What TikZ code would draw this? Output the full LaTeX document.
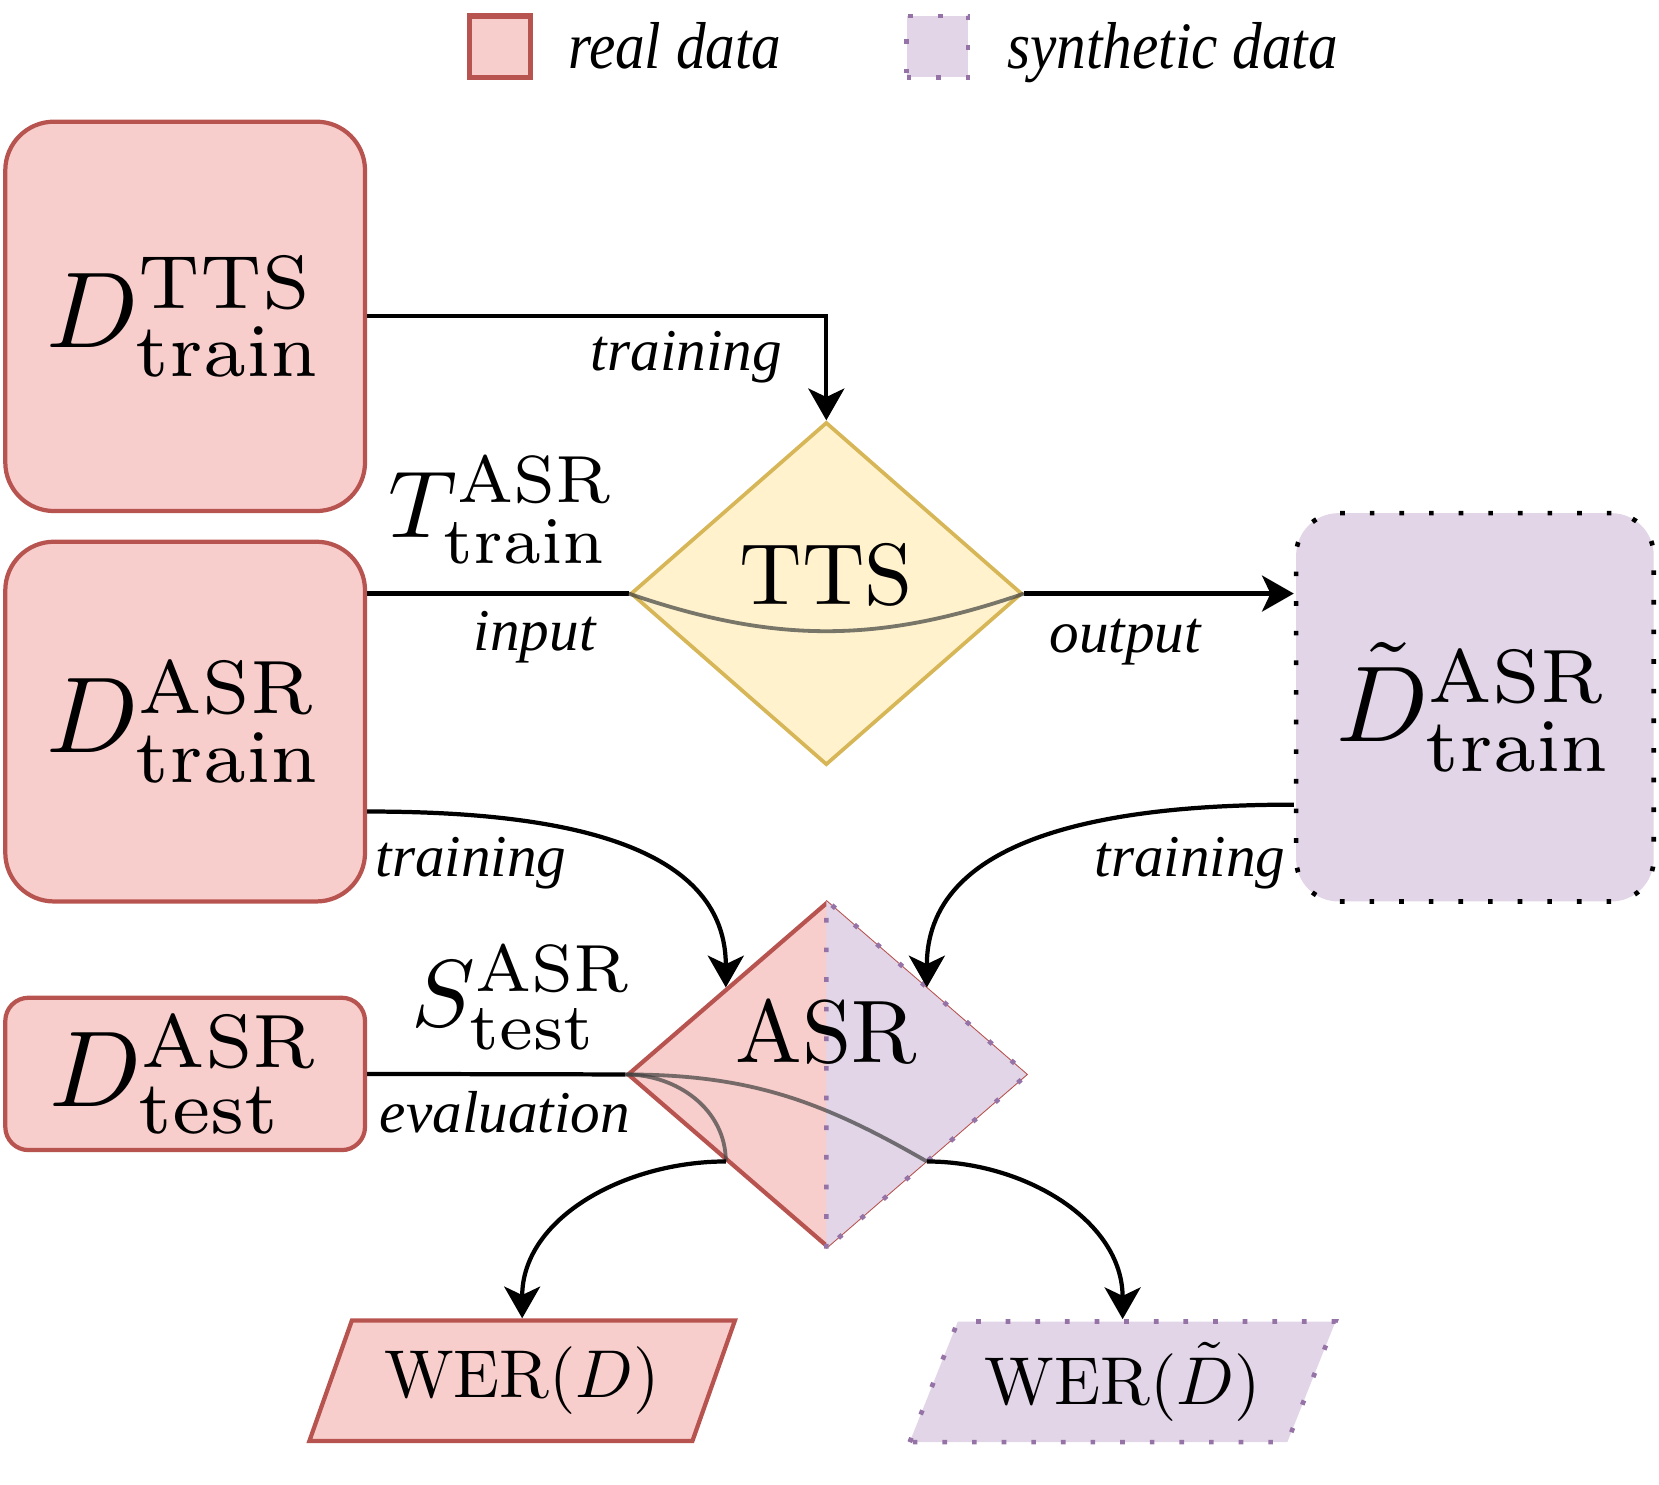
\documentclass[tikz,border=0pt]{standalone}
\usepackage{fontspec}
\newfontfamily\lblfont{Liberation Serif}
\usetikzlibrary{arrows.meta,shapes.geometric,calc}

\definecolor{realfill}{HTML}{F8CECC}
\definecolor{realdraw}{HTML}{B85450}
\definecolor{synfill}{HTML}{E1D5E7}
\definecolor{syndraw}{HTML}{9673A6}
\definecolor{ttsfill}{HTML}{FFF2CC}
\definecolor{ttsdraw}{HTML}{D6B656}

% text set at 10pt and blown up, so that the small optical sizes are kept
\newcommand{\bigset}[2]{\scalebox{#1}{#2}}

\begin{document}
\begin{tikzpicture}[x=0.5pt, y=0.5pt, line width=2pt,
  realbox/.style={draw=realdraw, fill=realfill, line width=2pt, rounded corners=23pt, inner sep=0pt},
  synbox/.style={draw=black, fill=synfill, line width=2.2pt, dash pattern=on 2.2pt off 11.8pt, rounded corners=20pt, inner sep=0pt},
  purpdot/.style={line width=2.2pt, dash pattern=on 2.2pt off 11.8pt},
  lbl/.style={font=\lblfont\itshape\fontsize{28}{32}\selectfont, inner sep=0pt},
  mlbl/.style={inner sep=0pt},
  arr/.style={-{Stealth[length=15pt,width=17pt,inset=4pt]}},
  trace/.style={black!75, opacity=0.7, line width=1.8pt},
  wer/.style={trapezium, trapezium left angle=63, trapezium right angle=117, trapezium stretches=true, minimum width=201.5pt, minimum height=57pt, inner sep=0pt}]
	\useasboundingbox (0,0) rectangle (1568,-1403);
	% legend
	\node[draw=realdraw, fill=realfill, line width=2.5pt, minimum size=29pt, inner sep=0pt] (lgreal) at (472.5,-44) {};
	\node[lbl, anchor=base west] (lgrealtxt) at (535,-65) {\scalebox{1}[1.12]{real data}};
	\node[draw=syndraw, fill=synfill, purpdot, minimum size=29pt, inner sep=0pt] (lgsyn) at (886,-44) {};
	\node[lbl, anchor=base west] (lgsyntxt) at (950,-65) {\scalebox{1}[1.12]{synthetic data}};
	% data sets
	\node[realbox, minimum width=170pt, minimum height=184pt] (dtts) at (175,-299) {\bigset{5.1}{$D^{\mathrm{TTS}}_{\mathrm{train}}$}};
	\node[realbox, minimum width=170pt, minimum height=170pt] (dasr) at (175,-682) {\bigset{5.1}{$D^{\mathrm{ASR}}_{\mathrm{train}}$}};
	\node[realbox, rounded corners=11pt, minimum width=170pt, minimum height=72pt] (dtest) at (175,-1015) {\bigset{5.1}{$D^{\mathrm{ASR}}_{\mathrm{test}}$}};
	\node[synbox, minimum width=169pt, minimum height=183.5pt] (dsyn) at (1394,-668.5) {\bigset{5.1}{$\tilde{D}^{\mathrm{ASR}}_{\mathrm{train}}$}};
	% models
	\node[diamond, draw=ttsdraw, fill=ttsfill, line width=1.75pt, minimum width=185pt, minimum height=162pt, inner sep=0pt] (tts) at (781,-561) {};
	\node[diamond, draw=realdraw, fill=realfill, line width=2pt, minimum width=188pt, minimum height=162.5pt, inner sep=0pt] (asr) at (781,-1015.5) {};
	\fill[synfill] (asr.north) -- (asr.east) -- (asr.south) -- cycle;
	\draw[realdraw, line width=0.4pt] (asr.north) -- (asr.east) -- (asr.south);
	\draw[syndraw, purpdot] (asr.south) -- (asr.north) -- (asr.east) -- (asr.south);
	\node[inner sep=0pt] (ttstxt) at ([yshift=9pt]tts.center) {\bigset{4.1}{TTS}};
	\node[inner sep=0pt] (asrtxt) at ([yshift=20pt]asr.center) {\bigset{4.2}{ASR}};
	\coordinate (asrnw) at ($(asr.west)!0.5!(asr.north)$);
	\coordinate (asrne) at ($(asr.east)!0.5!(asr.north)$);
	\coordinate (asrsw) at ($(asr.west)!0.5!(asr.south)$);
	\coordinate (asrse) at ($(asr.east)!0.5!(asr.south)$);
	% results
	\node[wer, draw=realdraw, fill=realfill] (werreal) at (493.5,-1305) {\bigset{3.2}{WER$(D)$}};
	\node[wer, draw=syndraw, purpdot, fill=synfill] (wersyn) at (1061,-1306) {\bigset{3.2}{WER$(\tilde{D})$}};
	% TTS connections
	\draw[arr] (dtts.east) -| (tts.north);
	\node[lbl, anchor=base east] at (741,-350) {training};
	\draw (tts.west) -- (tts.west -| dasr.east);
	\node[mlbl, anchor=base west] at (365,-508) {\bigset{4.5}{$T^{\mathrm{ASR}}_{\mathrm{train}}$}};
	\node[lbl, anchor=base east] at (565,-615) {input};
	\draw[arr] (tts.east) -- (tts.east -| dsyn.west);
	\node[lbl, anchor=base west] at (990,-617) {output};
	\draw[trace] (tts.west) to[bend right=19] (tts.east);
	% ASR connections
	\draw[arr] ($(dasr.east)+(0,-85)$) to[out=0,in=90] (asrnw);
	\node[lbl, anchor=base west] at (353,-828) {training};
	\draw[arr] ($(dsyn.west)+(0,-92)$) to[out=180,in=90] (asrne);
	\node[lbl, anchor=base east] at (1217,-828) {training};
	\draw (dtest.east) -- (asr.west);
	\node[mlbl, anchor=base west] at (387,-970) {\bigset{4.5}{$S^{\mathrm{ASR}}_{\mathrm{test}}$}};
	\node[lbl, anchor=base west] at (357,-1070) {evaluation};
	\draw[trace] (asr.west) to[out=0,in=90] (asrsw);
	\draw[trace] (asr.west) to[out=0,in=150] (asrse);
	\draw[arr] (asrsw) to[out=180,in=90] (werreal.north);
	\draw[arr] (asrse) to[out=0,in=90] (wersyn.north);
\end{tikzpicture}
\end{document}
